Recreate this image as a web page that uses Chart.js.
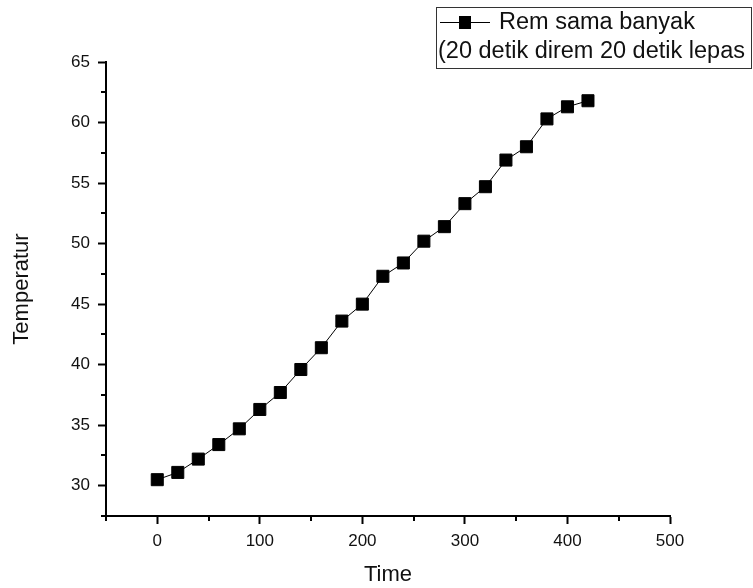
<!DOCTYPE html>
<html>
<head>
<meta charset="utf-8">
<script src="https://cdn.jsdelivr.net/npm/chart.js@4"></script>
<style>
html,body{margin:0;padding:0;background:#fff;overflow:hidden;}
canvas{display:block;}
</style>
</head>
<body>
<canvas id="c" width="753" height="588"></canvas>
<script>
// ---- data ----
const timeValues = [0,20,40,60,80,100,120,140,160,180,200,220,240,260,280,300,320,340,360,380,400,420];
const temperatureValues = [30.5,31.1,32.2,33.4,34.7,36.3,37.7,39.6,41.4,43.6,45.0,47.3,48.4,50.2,51.4,53.3,54.7,56.9,58.0,60.3,61.3,61.8];
const seriesLabelLines = ["Rem sama banyak", "(20 detik direm 20 detik lepas"];
const xTitle = "Time";
const yTitle = "Temperatur";
const xMinorTicks = [-50,50,150,250,350,450];
const yMinorTicks = [27.5,32.5,37.5,42.5,47.5,52.5,57.5,62.5];

const FONT = "'Liberation Sans', Arial, sans-serif";
const TXT = "#111";

const points = timeValues.map((t,i)=>({x:t, y:temperatureValues[i]}));

const minorTickPlugin = {
  id: 'minorTicks',
  afterDraw(chart){
    const ctx = chart.ctx;
    const xs = chart.scales.x, ys = chart.scales.y;
    const area = chart.chartArea;
    ctx.save();
    ctx.strokeStyle = '#000';
    ctx.lineWidth = 2;
    ctx.beginPath();
    xMinorTicks.forEach(v=>{
      const px = Math.round(xs.getPixelForValue(v));
      ctx.moveTo(px, area.bottom); ctx.lineTo(px, area.bottom + 5);
    });
    yMinorTicks.forEach(v=>{
      const py = Math.round(ys.getPixelForValue(v));
      ctx.moveTo(area.left, py); ctx.lineTo(area.left - 5, py);
    });
    ctx.stroke();
    ctx.restore();
  }
};

const legendPlugin = {
  id: 'boxLegend',
  afterDraw(chart){
    const ctx = chart.ctx;
    ctx.save();
    ctx.strokeStyle = '#333';
    ctx.lineWidth = 1;
    ctx.strokeRect(436.5, 7.5, 315, 61);
    ctx.strokeStyle = '#000';
    ctx.beginPath();
    ctx.moveTo(440, 22.5); ctx.lineTo(490, 22.5);
    ctx.stroke();
    ctx.fillStyle = '#000';
    ctx.fillRect(459, 16, 12, 13);
    ctx.fillStyle = TXT;
    ctx.font = "23.5px " + FONT;
    ctx.textBaseline = 'middle';
    ctx.textAlign = 'left';
    ctx.fillText(seriesLabelLines[0], 499, 23);
    ctx.fillText(seriesLabelLines[1], 438, 52);
    ctx.restore();
  }
};

new Chart(document.getElementById('c'), {
  type: 'line',
  data: {
    datasets: [{
      label: seriesLabelLines.join(' '),
      data: points,
      borderColor: '#000',
      borderWidth: 1,
      backgroundColor: '#000',
      pointStyle: 'rect',
      pointRadius: 8.5,
      pointHoverRadius: 8.5,
      pointBorderColor: '#000',
      pointBorderWidth: 1,
      pointBackgroundColor: '#000',
      tension: 0,
      clip: false
    }]
  },
  options: {
    responsive: false,
    animation: false,
    devicePixelRatio: 1,
    layout: { padding: { left: 0, top: 62, right: 83, bottom: 0 } },
    plugins: { legend: { display: false }, tooltip: { enabled: false } },
    scales: {
      x: {
        type: 'linear',
        min: -50, max: 500,
        afterFit(s){ s.height = 72; },
        afterBuildTicks(s){ s.ticks = s.ticks.filter(t => Math.abs(t.value % 100) < 1e-9); },
        ticks: { stepSize: 50, color: TXT, font: { family: FONT, size: 17 }, padding: 7, maxRotation: 0, autoSkip: false },
        grid: { drawOnChartArea: false, drawTicks: true, tickLength: 8, tickColor: '#000', tickWidth: 2 },
        border: { display: true, color: '#000', width: 2 },
        title: { display: true, text: xTitle, color: TXT, font: { family: FONT, size: 22 }, padding: { top: 0, bottom: 0 } }
      },
      y: {
        type: 'linear',
        min: 27.5, max: 65,
        afterFit(s){ s.width = 106; },
        afterBuildTicks(s){ s.ticks = s.ticks.filter(t => Math.abs(t.value % 5) < 1e-9); },
        ticks: { stepSize: 2.5, color: TXT, font: { family: FONT, size: 17 }, padding: 8, autoSkip: false },
        grid: { drawOnChartArea: false, drawTicks: true, tickLength: 8, tickColor: '#000', tickWidth: 2 },
        border: { display: true, color: '#000', width: 2 },
        title: { display: true, text: yTitle, color: TXT, font: { family: FONT, size: 22 }, padding: { top: 9, bottom: 0 } }
      }
    }
  },
  plugins: [minorTickPlugin, legendPlugin]
});
</script>
</body>
</html>
